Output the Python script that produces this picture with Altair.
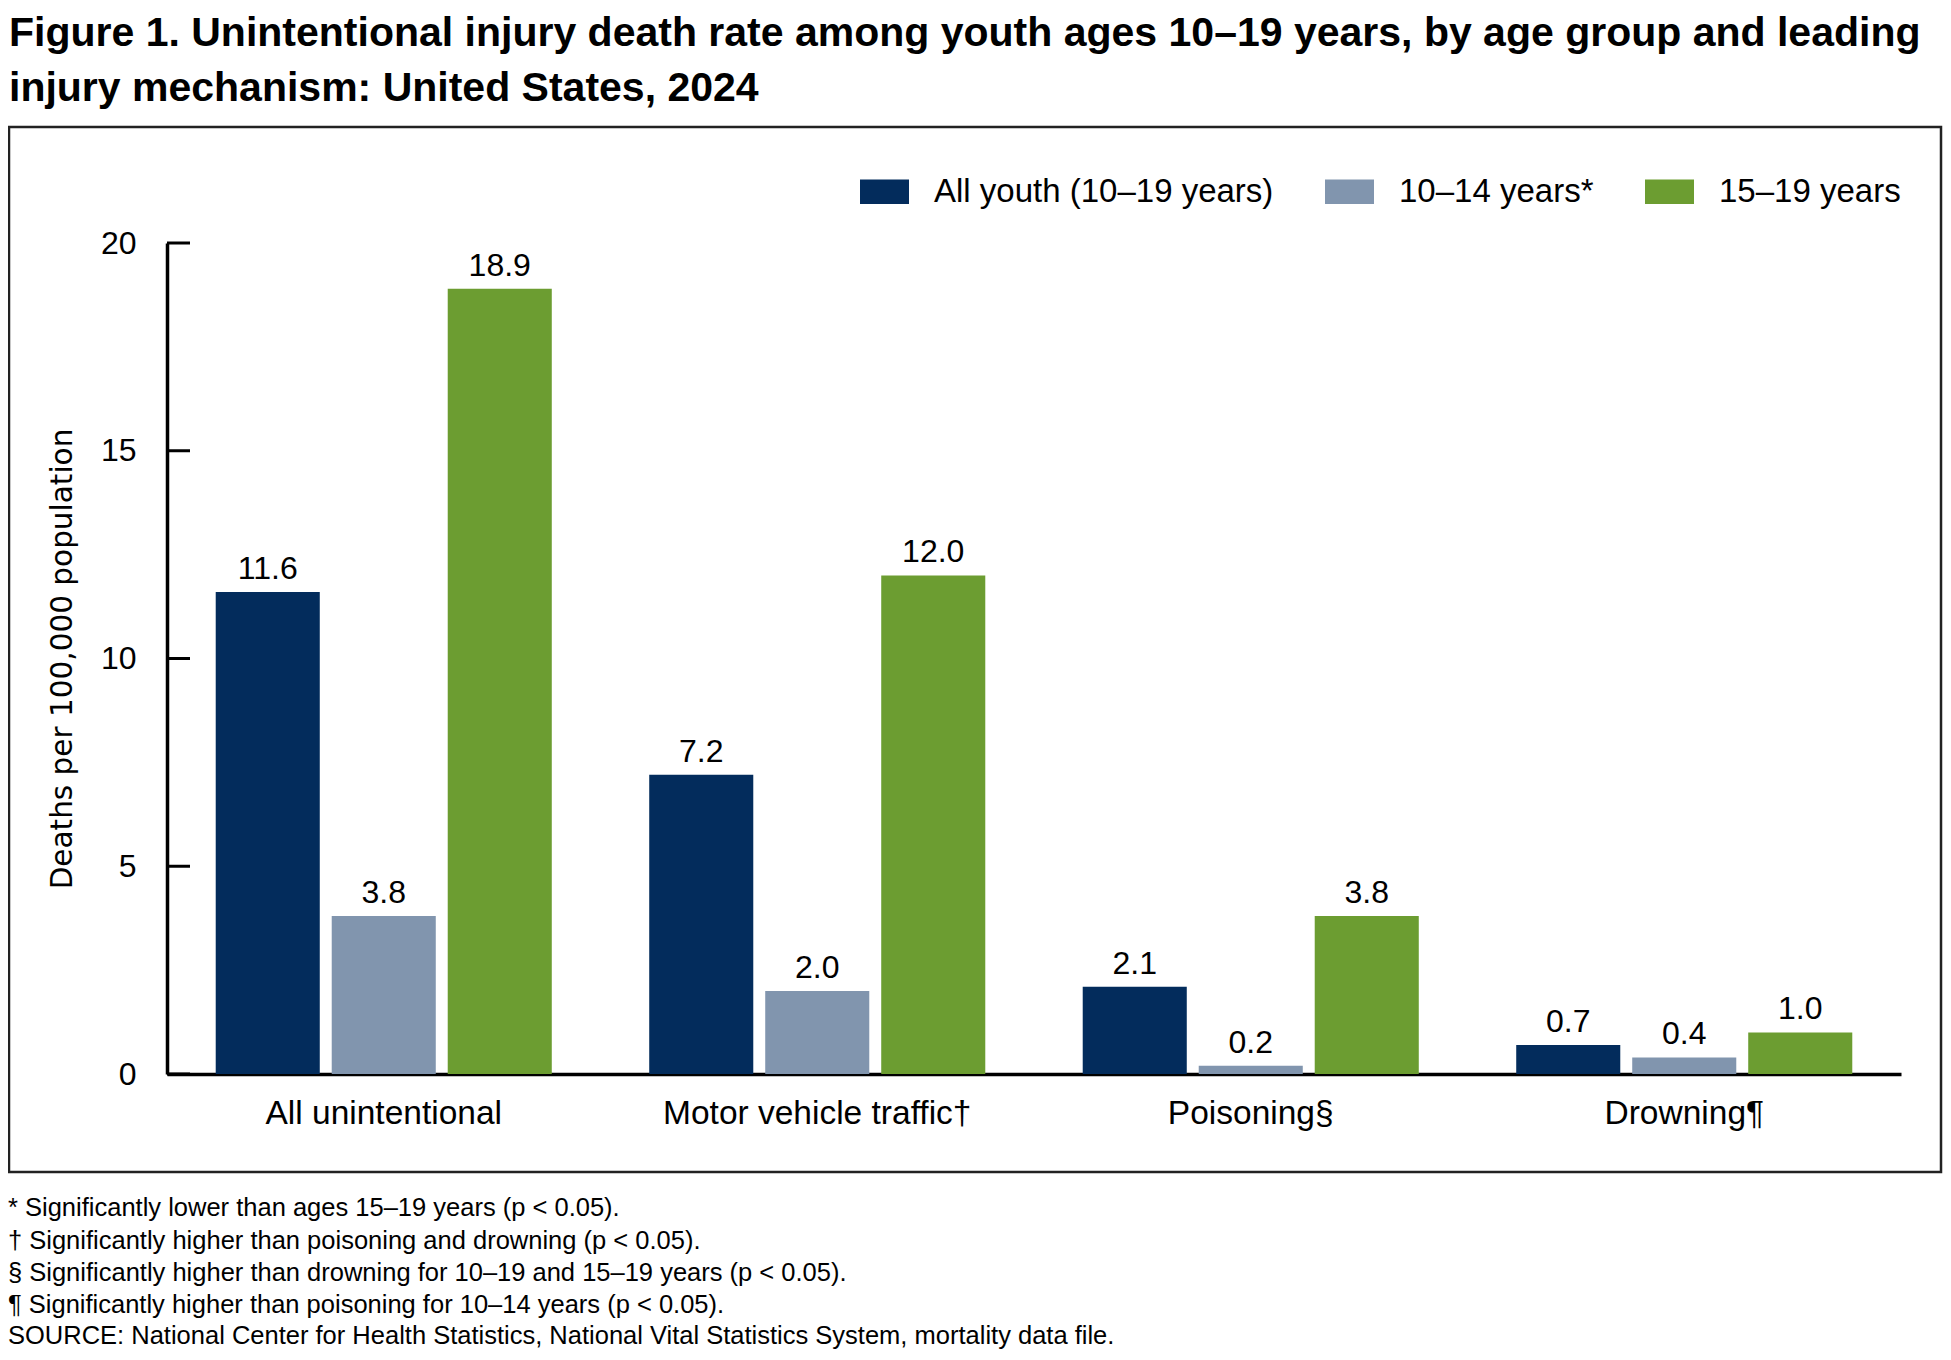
import altair as alt
import pandas as pd

categories = ["All unintentional", "Motor vehicle traffic\u2020", "Poisoning\u00a7", "Drowning\u00b6"]
groups = ["All youth (10\u201319 years)", "10\u201314 years*", "15\u201319 years"]
all_youth = [11.6, 7.2, 2.1, 0.7]
age_10_14 = [3.8, 2.0, 0.2, 0.4]
age_15_19 = [18.9, 12.0, 3.8, 1.0]
colors = ["#032C5C", "#8195AE", "#6C9D31"]
y_ticks = [0, 5, 10, 15, 20]

title_lines = [
    "Figure 1. Unintentional injury death rate among youth ages 10\u201319 years, by age group and leading",
    "injury mechanism: United States, 2024",
]
footnotes = [
    "* Significantly lower than ages 15\u201319 years (p < 0.05).",
    "\u2020 Significantly higher than poisoning and drowning (p < 0.05).",
    "\u00a7 Significantly higher than drowning for 10\u201319 and 15\u201319 years (p < 0.05).",
    "\u00b6 Significantly higher than poisoning for 10\u201314 years (p < 0.05).",
    "SOURCE: National Center for Health Statistics, National Vital Statistics System, mortality data file.",
]

rows = []
for series, vals in zip(groups, [all_youth, age_10_14, age_15_19]):
    for c, v in zip(categories, vals):
        rows.append({"mechanism": c, "group": series, "rate": v})
df = pd.DataFrame(rows)

FONT = "Liberation Sans"
W, H = 1734, 831

x_enc = alt.X("mechanism:N", sort=categories,
              scale=alt.Scale(paddingInner=0, paddingOuter=0),
              axis=alt.Axis(title=None, ticks=False, tickSize=0, labelAngle=0,
                            labelFont=FONT, labelFontSize=33.5, labelColor="black",
                            labelPadding=23, domainColor="black", domainWidth=3.5,
                            labelLimit=0))
xo_enc = alt.XOffset("group:N", sort=groups,
                     scale=alt.Scale(paddingInner=0.103, paddingOuter=0.42))
y_scale = alt.Scale(domain=[0, 20], nice=False)
y_axis = alt.Axis(values=y_ticks, ticks=False, tickSize=0, grid=False,
                  labelFont=FONT, labelFontSize=32, labelColor="black",
                  labelPadding=31, domainColor="black", domainWidth=3.5,
                  title="Deaths per 100,000 population",
                  titleFont="DejaVu Sans", titleFontSize=29.5,
                  titleFontWeight="normal", titleColor="black",
                  titleX=-105, titleY=H / 2, titleAngle=270,
                  titleAlign="center", titleBaseline="middle")

bars = alt.Chart(df).mark_bar().encode(
    x=x_enc,
    xOffset=xo_enc,
    y=alt.Y("rate:Q", scale=y_scale, axis=y_axis),
    color=alt.Color("group:N", sort=groups,
                    scale=alt.Scale(domain=groups, range=colors),
                    legend=alt.Legend(title=None, orient="none", direction="horizontal",
                                      legendX=693, legendY=-76,
                                      symbolType="M-1,-0.5H1V0.5H-1Z",
                                      symbolSize=2401, symbolStrokeWidth=0,
                                      labelFont=FONT, labelFontSize=33,
                                      labelColor="black", labelOffset=25,
                                      columnPadding=51, labelLimit=0)),
)

values = alt.Chart(df).mark_text(font=FONT, fontSize=32, color="black",
                                 baseline="alphabetic", dy=-13).encode(
    x=alt.X("mechanism:N", sort=categories),
    xOffset=alt.XOffset("group:N", sort=groups),
    y=alt.Y("rate:Q", scale=y_scale),
    text=alt.Text("rate:Q", format=".1f"),
)

ticks = alt.Chart(pd.DataFrame({"rate": y_ticks})).mark_rule(color="black", strokeWidth=3).encode(
    y=alt.Y("rate:Q", scale=y_scale),
    x=alt.value(0), x2=alt.value(23),
)

frame = alt.Chart(pd.DataFrame({"k": [0]})).mark_rect(
    fill="white", fillOpacity=0, stroke="#222222", strokeWidth=2.5).encode(
    x=alt.value(-158), x2=alt.value(1774), y=alt.value(-116), y2=alt.value(929))

layers = [frame]
for line, yy in zip(title_lines, [-197, -142]):
    layers.append(alt.Chart(pd.DataFrame({"t": [line]})).mark_text(
        font=FONT, fontWeight="bold", fontSize=41, color="black",
        align="left", baseline="alphabetic").encode(
        x=alt.value(-158), y=alt.value(yy), text="t:N"))
for line, yy in zip(footnotes, [973, 1005.5, 1038, 1070, 1101]):
    layers.append(alt.Chart(pd.DataFrame({"t": [line]})).mark_text(
        font=FONT, fontSize=25.5, color="black",
        align="left", baseline="alphabetic").encode(
        x=alt.value(-159), y=alt.value(yy), text="t:N"))

chart = alt.layer(*layers, bars, values, ticks).properties(
    width=W, height=H,
    autosize=alt.AutoSizeParams(type="none"),
    padding={"left": 159, "top": 235, "right": 42, "bottom": 278},
    background="white",
).configure_view(stroke=None)

chart.save("out.html", embed_options={"renderer": "svg", "actions": False})
